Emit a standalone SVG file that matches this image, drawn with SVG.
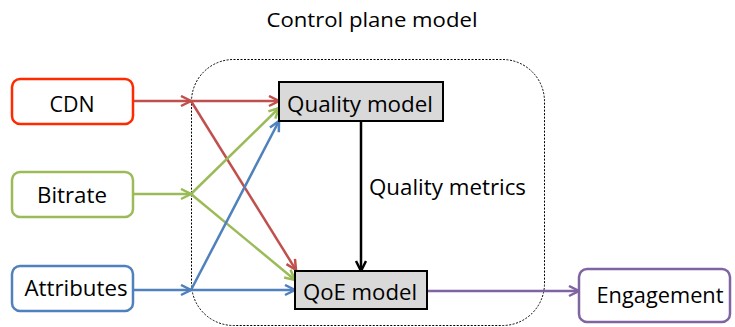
<svg xmlns="http://www.w3.org/2000/svg" width="735" height="327" viewBox="0 0 735 327">
  <style>
    text { font-family: "Open Sans", "Liberation Sans", sans-serif; fill: #000; }
    .lbl { font-size: 22px; text-anchor: middle; }
    .in { fill: #fff; stroke-width: 2.5; }
    .gray { fill: #d9d9d9; stroke: #000; stroke-width: 2; }
    .ln { fill: none; stroke-width: 2.5; }
    .red { stroke: #c0504d; }
    .grn { stroke: #9bbb59; }
    .blu { stroke: #4f81bd; }
    .pur { stroke: #8064a2; }
    .blk { stroke: #000; }
  </style>
  <defs>
    <marker id="aR" markerUnits="userSpaceOnUse" markerWidth="14" markerHeight="14" refX="11" refY="6" orient="auto"><path d="M1,1 L11,6 L1,11" fill="none" stroke="#c0504d" stroke-width="2.5"/></marker>
    <marker id="aG" markerUnits="userSpaceOnUse" markerWidth="14" markerHeight="14" refX="11" refY="6" orient="auto"><path d="M1,1 L11,6 L1,11" fill="none" stroke="#9bbb59" stroke-width="2.5"/></marker>
    <marker id="aB" markerUnits="userSpaceOnUse" markerWidth="14" markerHeight="14" refX="11" refY="6" orient="auto"><path d="M1,1 L11,6 L1,11" fill="none" stroke="#4f81bd" stroke-width="2.5"/></marker>
    <marker id="aP" markerUnits="userSpaceOnUse" markerWidth="14" markerHeight="14" refX="11" refY="6" orient="auto"><path d="M1,1 L11,6 L1,11" fill="none" stroke="#8064a2" stroke-width="2.5"/></marker>
    <marker id="aK" markerUnits="userSpaceOnUse" markerWidth="14" markerHeight="14" refX="11" refY="6" orient="auto"><path d="M1,1 L11,6 L1,11" fill="none" stroke="#000" stroke-width="2.5"/></marker>
  </defs>
  <rect width="735" height="327" fill="#fff"/>

  <text x="372" y="27" font-size="20" text-anchor="middle" textLength="211" lengthAdjust="spacingAndGlyphs">Control plane model</text>

  <g id="container">
    <rect x="191.5" y="59.5" width="353" height="266" rx="42" ry="42" fill="none" stroke="#000" stroke-width="1" stroke-dasharray="2,1.5"/>
  </g>

  <g id="connectors">
    <line class="ln red" x1="133" y1="101" x2="191" y2="101" marker-end="url(#aR)"/>
    <line class="ln red" x1="191" y1="101" x2="279" y2="101" marker-end="url(#aR)"/>
    <line class="ln red" x1="191" y1="101" x2="296" y2="270" marker-end="url(#aR)"/>
    <line class="ln grn" x1="133" y1="194" x2="191" y2="194" marker-end="url(#aG)"/>
    <line class="ln grn" x1="191" y1="194" x2="279" y2="108" marker-end="url(#aG)"/>
    <line class="ln grn" x1="191" y1="194" x2="295" y2="280" marker-end="url(#aG)"/>
    <line class="ln blu" x1="133" y1="290" x2="191" y2="290" marker-end="url(#aB)"/>
    <line class="ln blu" x1="191" y1="290" x2="295" y2="290" marker-end="url(#aB)"/>
    <line class="ln blu" x1="191" y1="290" x2="279" y2="121" marker-end="url(#aB)"/>
    <line class="ln blk" x1="361" y1="121" x2="361" y2="271" marker-end="url(#aK)"/>
    <line class="ln pur" x1="427" y1="291" x2="579" y2="291" marker-end="url(#aP)"/>
  </g>

  <text x="369" y="195" font-size="21" textLength="157" lengthAdjust="spacingAndGlyphs">Quality metrics</text>

  <g id="cdn">
    <rect class="in" x="12" y="79" width="121" height="45" rx="8" stroke="#ff2a00"/>
    <text class="lbl" x="72" y="112" textLength="45" lengthAdjust="spacingAndGlyphs">CDN</text>
  </g>
  <g id="bitrate">
    <rect class="in" x="12" y="172" width="121" height="45" rx="8" stroke="#9bbb59"/>
    <text class="lbl" x="72" y="203" textLength="70" lengthAdjust="spacingAndGlyphs">Bitrate</text>
  </g>
  <g id="attributes">
    <rect class="in" x="12" y="266" width="121" height="45" rx="8" stroke="#4f81bd"/>
    <text class="lbl" x="76" y="296" textLength="103" lengthAdjust="spacingAndGlyphs">Attributes</text>
  </g>
  <g id="quality-model">
    <rect class="gray" x="279" y="82" width="164" height="39"/>
    <text class="lbl" x="360" y="112" textLength="146" lengthAdjust="spacingAndGlyphs">Quality model</text>
  </g>
  <g id="qoe-model">
    <rect class="gray" x="295" y="271" width="132" height="38"/>
    <text class="lbl" x="360" y="300" textLength="114" lengthAdjust="spacingAndGlyphs">QoE model</text>
  </g>
  <g id="engagement">
    <rect class="in" x="579" y="269" width="151" height="53" rx="8" stroke="#8064a2"/>
    <text class="lbl" x="660" y="303" textLength="127" lengthAdjust="spacingAndGlyphs">Engagement</text>
  </g>
</svg>
